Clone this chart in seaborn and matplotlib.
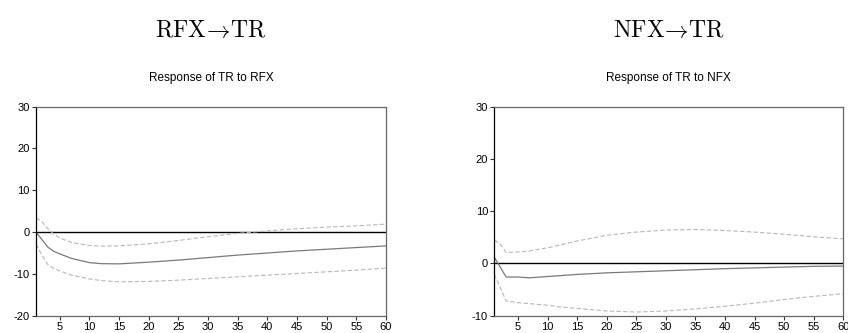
import matplotlib
matplotlib.use("Agg")
import matplotlib.pyplot as plt
import seaborn as sns
import pandas as pd

# Impulse-response horizons (periods) at which the responses are recorded
periods = [1, 2, 3, 4, 5, 7, 10, 12, 15, 20, 25, 30, 35, 40, 45, 50, 55, 60]

# Response of TR to RFX shock, with +/- 2 S.E. bands
rfx_resp  = [0.0, -1.8, -3.6, -4.6, -5.2, -6.3, -7.3, -7.55, -7.6, -7.2, -6.7, -6.1, -5.5, -5.0, -4.5, -4.1, -3.7, -3.3]
rfx_upper = [3.4, 2.5, 0.8, -0.5, -1.4, -2.5, -3.2, -3.35, -3.3, -2.8, -2.0, -1.1, -0.3, 0.3, 0.8, 1.2, 1.5, 1.9]
rfx_lower = [-2.9, -5.5, -7.8, -8.7, -9.3, -10.3, -11.2, -11.6, -11.9, -11.8, -11.5, -11.1, -10.7, -10.3, -9.9, -9.5, -9.1, -8.6]

# Response of TR to NFX shock, with +/- 2 S.E. bands
nfx_resp  = [1.2, -0.7, -2.6, -2.6, -2.6, -2.75, -2.5, -2.35, -2.1, -1.8, -1.6, -1.4, -1.2, -1.0, -0.85, -0.7, -0.55, -0.5]
nfx_upper = [4.5, 3.7, 2.1, 2.15, 2.2, 2.4, 3.0, 3.5, 4.3, 5.4, 6.0, 6.4, 6.5, 6.3, 6.0, 5.6, 5.1, 4.7]
nfx_lower = [-2.1, -4.6, -7.2, -7.35, -7.5, -7.7, -8.0, -8.3, -8.6, -9.1, -9.3, -9.1, -8.7, -8.2, -7.6, -6.9, -6.3, -5.8]

headings = [r"$\mathrm{RFX}\!\rightarrow\!\mathrm{TR}$", r"$\mathrm{NFX}\!\rightarrow\!\mathrm{TR}$"]
subtitles = ["Response of TR to RFX", "Response of TR to NFX"]
xticks = [5, 10, 15, 20, 25, 30, 35, 40, 45, 50, 55, 60]

sns.set_theme(style="white")
plt.rcParams["font.family"] = ["Liberation Sans", "DejaVu Sans"]
plt.rcParams["mathtext.fontset"] = "cm"
plt.rcParams["axes.unicode_minus"] = False
for key in ["text.color", "axes.labelcolor", "xtick.labelcolor", "ytick.labelcolor"]:
    plt.rcParams[key] = "black"

fig = plt.figure(figsize=(8.48, 3.33), dpi=100)
W, H = 848, 333
panels = [
    dict(box=(36, 106.7, 386, 315.7), ylim=(-20, 30), yticks=[-20, -10, 0, 10, 20, 30],
         resp=rfx_resp, upper=rfx_upper, lower=rfx_lower),
    dict(box=(494.3, 106.7, 843.3, 315.7), ylim=(-10, 30), yticks=[-10, 0, 10, 20, 30],
         resp=nfx_resp, upper=nfx_upper, lower=nfx_lower),
]

for i, p in enumerate(panels):
    x0, y0, x1, y1 = p["box"]
    ax = fig.add_axes([x0 / W, 1 - y1 / H, (x1 - x0) / W, (y1 - y0) / H])
    df = pd.DataFrame({"period": periods, "resp": p["resp"],
                       "upper": p["upper"], "lower": p["lower"]})
    ax.axhline(0, color="black", lw=1.0, zorder=1)
    sns.lineplot(data=df, x="period", y="upper", ax=ax, color="#b8b8b8",
                 lw=0.8, linestyle=(0, (4, 2)))
    sns.lineplot(data=df, x="period", y="lower", ax=ax, color="#b8b8b8",
                 lw=0.8, linestyle=(0, (4, 2)))
    sns.lineplot(data=df, x="period", y="resp", ax=ax, color="#7a7a7a", lw=0.9)
    ax.set_xlim(1, 60)
    ax.set_ylim(*p["ylim"])
    ax.set_xticks(xticks)
    ax.set_yticks(p["yticks"])
    ax.set_xlabel("")
    ax.set_ylabel("")
    ax.tick_params(axis="both", which="major", direction="out", length=3, width=0.8,
                   labelsize=8, color="#333333", labelcolor="black", pad=1.5,
                   bottom=True, left=True)
    for side in ["top", "right", "bottom"]:
        ax.spines[side].set_color("#666666")
        ax.spines[side].set_linewidth(0.9)
    ax.spines["left"].set_color("black")
    ax.spines["left"].set_linewidth(0.9)
    cx = (x0 + x1) / 2 / W
    fig.text(cx, 1 - 78 / H, subtitles[i], ha="center", va="center", fontsize=8.5,
             color="black")
    fig.text(cx, 1 - 31 / H, headings[i], ha="center", va="center", fontsize=17,
             color="black")

fig.savefig("out.png", dpi=100)
